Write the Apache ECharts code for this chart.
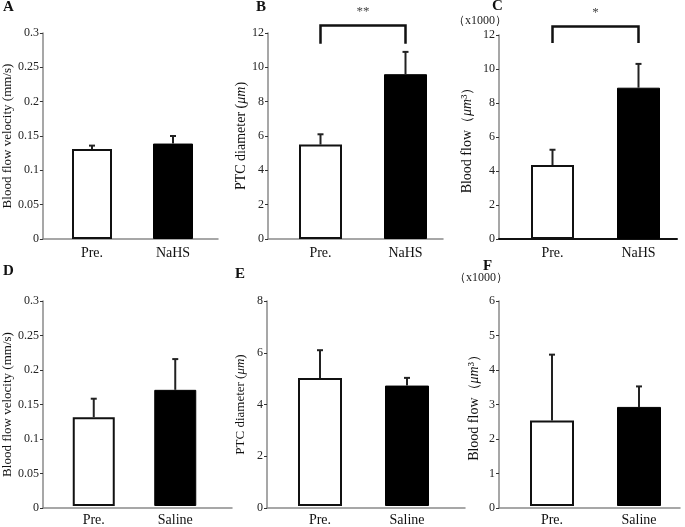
<!DOCTYPE html>
<html><head><meta charset="utf-8">
<script src="https://cdn.jsdelivr.net/npm/echarts@6/dist/echarts.min.js"></script>
<style>html,body{margin:0;padding:0;background:#fff}#c{width:685px;height:527px}</style>
</head><body><div id="c"></div>
<script>
// ---------- data ----------
const categoriesNaHS = ['Pre.', 'NaHS'];
const categoriesSaline = ['Pre.', 'Saline'];

const velocityNaHS = [0.131, 0.139];
const velocityNaHSErr = [0.005, 0.011];
const diameterNaHS = [5.5, 9.6];
const diameterNaHSErr = [0.6, 1.3];
const flowNaHS = [4.35, 8.9];          // x1000 µm³
const flowNaHSErr = [0.9, 1.4];

const velocitySaline = [0.13, 0.17];
const velocitySalineErr = [0.027, 0.045];
const diameterSaline = [5.0, 4.7];
const diameterSalineErr = [1.08, 0.3];
const flowSaline = [2.5, 2.9];         // x1000 µm³
const flowSalineErr = [1.93, 0.6];

const velocityTicks = [0, 0.3, 0.05];   // min, max, interval
const diameterTopTicks = [0, 12, 2];
const flowTopTicks = [0, 12, 2];
const diameterBottomTicks = [0, 8, 2];
const flowBottomTicks = [0, 6, 1];

const sigDiameterNaHS = [0, 1, 12.43, 11.38]; // from, to, bracket top, leg end
const sigDiameterNaHSLabel = '**';
const sigFlowNaHS = [0, 1, 12.5, 11.53];
const sigFlowNaHSLabel = '*';

const panelLetters = ['A', 'B', 'C', 'D', 'E', 'F'];
const scaleNote = '（x1000）';

// ---------- layout ----------
const FONT = 'Liberation Serif';
const panels = [
  {letter: panelLetters[0], cats: categoriesNaHS, vals: velocityNaHS, errs: velocityNaHSErr, ticks: velocityTicks,
   name: 'Blood flow velocity (mm/s)', nameSize: 13, frame: [42, 33, 218, 239], plot: [51.5, 213.5], barWidth: 40, nameGap: 28, letterPos: [3, 0]},
  {letter: panelLetters[1], cats: categoriesNaHS, vals: diameterNaHS, errs: diameterNaHSErr, ticks: diameterTopTicks,
   name: 'PTC diameter ({i|μm})', nameSize: 14, frame: [268, 33, 443, 239], plot: [278, 448], barWidth: 43, nameGap: 20, letterPos: [256, 0],
   sig: sigDiameterNaHS, sigLabel: sigDiameterNaHSLabel},
  {letter: panelLetters[2], cats: categoriesNaHS, vals: flowNaHS, errs: flowNaHSErr, ticks: flowTopTicks,
   name: 'Blood flow（{i|μm}³）', nameSize: 14, frame: [499, 35, 677, 239], plot: [509.5, 681.5], barWidth: 43, nameGap: 25, letterPos: [492, -1],
   sig: sigFlowNaHS, sigLabel: sigFlowNaHSLabel, note: [453, 15], xAxisColor: '#111'},
  {letter: panelLetters[3], cats: categoriesSaline, vals: velocitySaline, errs: velocitySalineErr, ticks: velocityTicks,
   name: 'Blood flow velocity (mm/s)', nameSize: 13, frame: [43, 301, 232, 508], plot: [53, 216], barWidth: 42, nameGap: 29, letterPos: [3, 264]},
  {letter: panelLetters[4], cats: categoriesSaline, vals: diameterSaline, errs: diameterSalineErr, ticks: diameterBottomTicks,
   name: 'PTC diameter ({i|μm})', nameSize: 13, frame: [267, 301, 465, 508], plot: [276.5, 450.5], barWidth: 44, nameGap: 20, letterPos: [235, 267]},
  {letter: panelLetters[5], cats: categoriesSaline, vals: flowSaline, errs: flowSalineErr, ticks: flowBottomTicks,
   name: 'Blood flow（{i|μm}³）', nameSize: 14, frame: [499, 301, 680, 508], plot: [508.5, 682.5], barWidth: 44, nameGap: 18, letterPos: [483, 259],
   note: [454, 272]}
];

function errorRender(params, api) {
  const x = api.value(0), v = api.value(1), e = api.value(2);
  const b = api.coord([x, v]), t = api.coord([x, v + e]);
  const hw = 3;
  return {type: 'group', children: [
    {type: 'line', shape: {x1: b[0], y1: b[1], x2: t[0], y2: t[1]}, style: {stroke: '#222', lineWidth: 2}},
    {type: 'line', shape: {x1: t[0] - hw, y1: t[1], x2: t[0] + hw, y2: t[1]}, style: {stroke: '#222', lineWidth: 2}}
  ]};
}
function bracketRenderFactory(label) {
  return function (params, api) {
    const a = api.value(0), b = api.value(1), top = api.value(2), leg = api.value(3);
    const p1 = api.coord([a, leg]), p2 = api.coord([a, top]), p3 = api.coord([b, top]), p4 = api.coord([b, leg]);
    return {type: 'group', children: [
      {type: 'polyline', shape: {points: [p1, p2, p3, p4]}, style: {stroke: '#111', lineWidth: 2.5, fill: null}},
      {type: 'text', style: {text: label, x: (p2[0] + p3[0]) / 2, y: p2[1] - 14, textAlign: 'center', textVerticalAlign: 'middle',
        font: '13px ' + FONT, fill: '#444'}}
    ]};
  };
}

const option = {
  animation: false,
  backgroundColor: '#fff',
  textStyle: {fontFamily: FONT},
  title: [], grid: [], xAxis: [], yAxis: [], series: [], graphic: []
};

panels.forEach((p, i) => {
  const [fl, ft, fr, fb] = p.frame;
  const fi = 2 * i, pi = 2 * i + 1;
  option.title.push({text: p.letter, left: p.letterPos[0], top: p.letterPos[1], padding: 0,
    textStyle: {fontFamily: FONT, fontWeight: 'bold', fontSize: 15, color: '#111'}});
  option.grid.push({left: fl, top: ft, width: fr - fl, height: fb - ft, containLabel: false});
  option.grid.push({left: p.plot[0], top: ft, width: p.plot[1] - p.plot[0], height: fb - ft, containLabel: false});
  option.xAxis.push({gridIndex: fi, type: 'value', min: 0, max: 1,
    axisLine: {show: true, onZero: false, lineStyle: {color: p.xAxisColor || '#8a8a8a', width: p.xAxisColor ? 2 : 1.5}},
    axisTick: {show: false}, axisLabel: {show: false}, splitLine: {show: false}});
  option.xAxis.push({gridIndex: pi, type: 'category', data: p.cats,
    axisLine: {show: false}, axisTick: {show: false},
    axisLabel: {fontFamily: FONT, fontSize: 14, color: '#111', margin: 7}});
  option.yAxis.push({gridIndex: fi, type: 'value', min: p.ticks[0], max: p.ticks[1], interval: p.ticks[2],
    axisLine: {show: true, lineStyle: {color: '#8a8a8a', width: 1.5}},
    axisTick: {show: true, length: 3, lineStyle: {color: '#333', width: 1}},
    axisLabel: {fontFamily: FONT, fontSize: 12, color: '#222', margin: 4},
    splitLine: {show: false},
    name: p.name, nameLocation: 'middle', nameGap: p.nameGap,
    nameTextStyle: {fontFamily: FONT, fontSize: p.nameSize, color: '#111',
      rich: {i: {fontFamily: FONT, fontSize: p.nameSize, fontStyle: 'italic', color: '#111'}}}});
  option.yAxis.push({gridIndex: pi, type: 'value', min: p.ticks[0], max: p.ticks[1], interval: p.ticks[2], show: false});
  option.series.push({type: 'bar', xAxisIndex: pi, yAxisIndex: pi, barWidth: p.barWidth,
    data: p.vals.map((v, j) => ({value: v, itemStyle: j === 0
      ? {color: '#fff', borderColor: '#111', borderWidth: 2}
      : {color: '#000', borderColor: '#000', borderWidth: 1}})),
    z: 2});
  option.series.push({type: 'custom', xAxisIndex: pi, yAxisIndex: pi, renderItem: errorRender, clip: false, z: 3,
    data: p.vals.map((v, j) => [j, v, p.errs[j]])});
  if (p.sig) {
    option.series.push({type: 'custom', xAxisIndex: pi, yAxisIndex: pi, renderItem: bracketRenderFactory(p.sigLabel),
      clip: false, z: 3, data: [p.sig]});
  }
  if (p.note) {
    option.graphic.push({type: 'text', left: p.note[0], top: p.note[1],
      style: {text: scaleNote, font: '12px ' + FONT, fill: '#222'}});
  }
});

const chart = echarts.init(document.getElementById('c'), null, {renderer: 'canvas'});
chart.setOption(option);
</script>
</body></html>
